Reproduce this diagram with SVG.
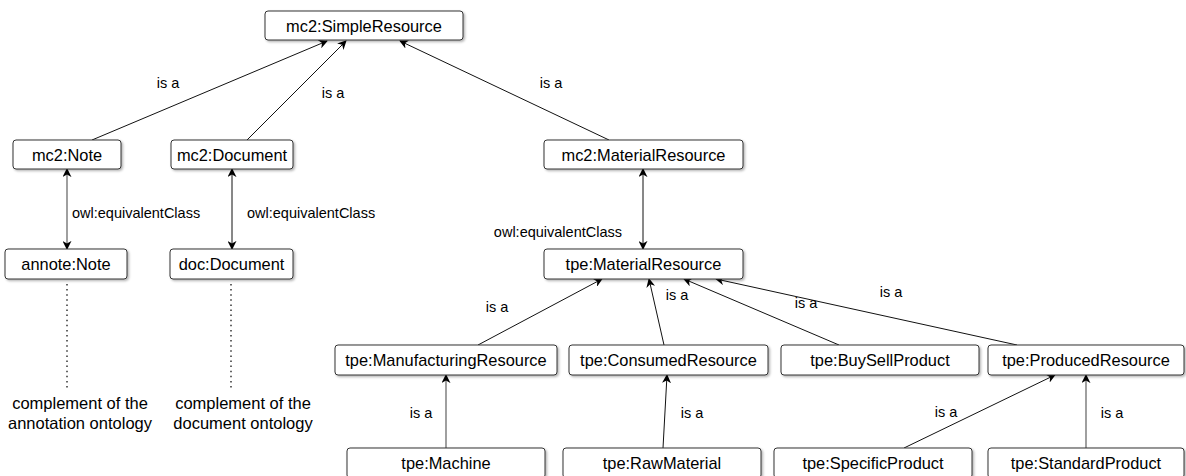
<svg xmlns="http://www.w3.org/2000/svg" width="1186" height="476" viewBox="0 0 1186 476">
<defs>
<style>
.box{fill:#fff;stroke:#333;stroke-width:1;filter:url(#sh)}
.lbl{font-family:"Liberation Sans",Arial,sans-serif;font-size:16.4px;fill:#000;text-anchor:middle}
.el{font-family:"Liberation Sans",Arial,sans-serif;font-size:14.5px;fill:#000;text-anchor:middle}
.note{font-family:"Liberation Sans",Arial,sans-serif;font-size:16.5px;fill:#000;text-anchor:middle}
.c{stroke:#111;stroke-width:1;fill:none;marker-end:url(#ah)}
.g{stroke:#777;stroke-width:1.4}
.bi{marker-start:url(#ahs)}
.dot{stroke:#333;stroke-width:1.5;stroke-dasharray:1.5 3.6;fill:none}
</style>
<filter id="sh" x="-5%" y="-20%" width="110%" height="150%">
<feDropShadow dx="1.5" dy="1.5" stdDeviation="0.8" flood-color="#000" flood-opacity="0.3"/>
</filter>
<marker id="ah" viewBox="0 0 10 10" refX="9" refY="5" markerWidth="9" markerHeight="9" markerUnits="userSpaceOnUse" orient="auto">
<path d="M0,0 L10,5 L0,10 L3,5 z" fill="#000"/>
</marker>
<marker id="ahs" viewBox="0 0 10 10" refX="1" refY="5" markerWidth="9" markerHeight="9" markerUnits="userSpaceOnUse" orient="auto">
<path d="M10,0 L0,5 L10,10 L7,5 z" fill="#000"/>
</marker>
</defs>
<rect width="1186" height="476" fill="#fff"/>

<g id="connectors">
<line class="c" x1="92" y1="140" x2="327" y2="41"/>
<line class="c" x1="247" y1="140" x2="346" y2="41"/>
<line class="c" x1="609" y1="140" x2="400" y2="41"/>
<line class="c bi g" x1="67" y1="169" x2="67" y2="249"/>
<line class="c bi" x1="232" y1="169" x2="232" y2="249"/>
<line class="c bi" x1="643" y1="169" x2="643" y2="249"/>
<line class="c" x1="478" y1="345" x2="602" y2="279"/>
<line class="c" x1="664" y1="345" x2="649" y2="279"/>
<line class="c" x1="839" y1="345" x2="684" y2="279"/>
<line class="c" x1="1017" y1="345" x2="716" y2="279"/>
<line class="c g" x1="446" y1="448" x2="446" y2="375"/>
<line class="c" x1="663" y1="448" x2="667" y2="375"/>
<line class="c" x1="904" y1="448" x2="1055" y2="375"/>
<line class="c g" x1="1086" y1="448" x2="1086" y2="375"/>
<line class="dot" x1="67" y1="284" x2="67" y2="389"/>
<line class="dot" x1="231" y1="284" x2="231" y2="389"/>
<text class="el" x="168" y="88">is a</text>
<text class="el" x="333" y="98">is a</text>
<text class="el" x="551" y="88">is a</text>
<text class="el" x="72" y="218" text-anchor="start" style="text-anchor:start">owl:equivalentClass</text>
<text class="el" x="247" y="218" style="text-anchor:start">owl:equivalentClass</text>
<text class="el" x="622" y="237" style="text-anchor:end">owl:equivalentClass</text>
<text class="el" x="497" y="312">is a</text>
<text class="el" x="677" y="300">is a</text>
<text class="el" x="806" y="308">is a</text>
<text class="el" x="891" y="297">is a</text>
<text class="el" x="421" y="418">is a</text>
<text class="el" x="692" y="418">is a</text>
<text class="el" x="946" y="417">is a</text>
<text class="el" x="1112" y="418">is a</text>
</g>

<g id="simpleResource"><rect class="box" x="265" y="11" width="198" height="29" rx="3"/><text class="lbl" x="364" y="31.5">mc2:SimpleResource</text></g>
<g id="mc2Note"><rect class="box" x="13" y="140" width="108" height="29" rx="3"/><text class="lbl" x="67" y="160.5">mc2:Note</text></g>
<g id="mc2Document"><rect class="box" x="171" y="140" width="122" height="29" rx="3"/><text class="lbl" x="232" y="160.5">mc2:Document</text></g>
<g id="mc2MaterialResource"><rect class="box" x="544" y="140" width="199" height="29" rx="3"/><text class="lbl" x="643.5" y="160.5">mc2:MaterialResource</text></g>
<g id="annoteNote"><rect class="box" x="5" y="249" width="122" height="30" rx="3"/><text class="lbl" x="66" y="270">annote:Note</text></g>
<g id="docDocument"><rect class="box" x="170" y="249" width="123" height="30" rx="3"/><text class="lbl" x="231.5" y="270">doc:Document</text></g>
<g id="tpeMaterialResource"><rect class="box" x="544" y="249" width="199" height="30" rx="3"/><text class="lbl" x="643.5" y="270">tpe:MaterialResource</text></g>
<g id="manufacturing"><rect class="box" x="335" y="345" width="222" height="30" rx="3"/><text class="lbl" x="446" y="366">tpe:ManufacturingResource</text></g>
<g id="consumed"><rect class="box" x="569" y="345" width="199" height="30" rx="3"/><text class="lbl" x="668.5" y="366">tpe:ConsumedResource</text></g>
<g id="buySell"><rect class="box" x="781" y="345" width="198" height="30" rx="3"/><text class="lbl" x="880" y="366">tpe:BuySellProduct</text></g>
<g id="produced"><rect class="box" x="988" y="345" width="196" height="30" rx="3"/><text class="lbl" x="1086" y="366">tpe:ProducedResource</text></g>
<g id="machine"><rect class="box" x="347" y="448" width="198" height="30" rx="3"/><text class="lbl" x="446" y="469">tpe:Machine</text></g>
<g id="rawMaterial"><rect class="box" x="563" y="448" width="198" height="30" rx="3"/><text class="lbl" x="662" y="469">tpe:RawMaterial</text></g>
<g id="specific"><rect class="box" x="774" y="448" width="198" height="30" rx="3"/><text class="lbl" x="873" y="469">tpe:SpecificProduct</text></g>
<g id="standard"><rect class="box" x="988" y="448" width="196" height="30" rx="3"/><text class="lbl" x="1086" y="469">tpe:StandardProduct</text></g>

<g id="annotationComplement"><text class="note" x="80" y="409">complement of the</text><text class="note" x="80" y="429">annotation ontology</text></g>
<g id="documentComplement"><text class="note" x="243" y="409">complement of the</text><text class="note" x="243" y="429">document ontology</text></g>
</svg>
